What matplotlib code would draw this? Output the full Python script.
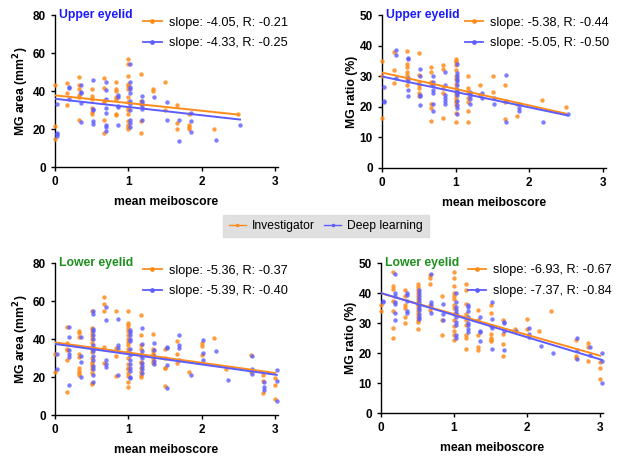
import numpy as np
import matplotlib
matplotlib.use("Agg")
import matplotlib.pyplot as plt
from matplotlib.lines import Line2D

plt.rcParams['font.family'] = ['Liberation Sans', 'DejaVu Sans']

# meiboscore columns (mean of 6 or so segment scores)
cols = [0, 1/6, 1/3, 1/2, 2/3, 5/6, 1, 7/6, 4/3, 3/2, 5/3, 11/6, 2, 13/6, 7/3, 5/2, 8/3, 17/6, 3]

# ---- upper eyelid, MG area ----
ua_inv = [[43, 21.5, 14.5], [44, 39, 32.5], [47.5, 43, 41, 38, 37, 25],
          [41, 37.5, 36, 31, 29, 28], [47, 41.5, 35, 34, 24.5, 18],
          [45, 41, 40, 37, 36, 28, 27.5],
          [57, 54, 48, 43.5, 42.5, 41, 37, 34, 31, 30, 28, 24, 22, 21, 20],
          [49, 35, 33, 24, 18], [41, 40], [45, 30], [32.5, 23, 20],
          [28, 22, 21, 20], [], [20], [], [28], [], [], []]
ua_dl = [[33, 18, 17.5, 16.5], [42, 41.5, 36], [43, 39.5, 39, 33.5, 23.5],
         [46, 30.5, 30, 24, 22.5], [45, 40.5, 36, 31, 28.5, 22, 21, 19],
         [38, 37, 32, 31.5, 22],
         [54, 44.5, 42, 41, 39, 35, 33, 30, 25, 23, 21],
         [37.5, 35, 33.5, 32, 30.5, 25], [37], [34, 24.5], [24.5, 13.5],
         [28.5, 24, 18.5], [], [14], [], [22], [], [], []]

# ---- upper eyelid, MG ratio ----
ur_inv = [[35, 30, 16.5], [37.8, 32, 27.8], [38.3, 34, 33, 31.5, 30.5, 29, 27],
          [37.5, 30.5, 28, 27, 26, 24.5, 23.5], [33, 31.5, 28, 27.5, 21, 19.5, 15.5],
          [33.5, 32.5, 26, 24.5, 16.5],
          [35.5, 35, 34.5, 33.5, 32, 30, 29, 27.5, 26, 25, 24, 23, 22, 21.5, 20.5, 18, 15],
          [30, 26, 25, 23, 21.5, 18.5, 15], [27, 24], [30, 25], [27, 21.5, 16],
          [21, 17], [], [22.2], [], [20], [], [], []]
ur_dl = [[26.5, 22, 21.5], [38.5, 37, 29.5], [36, 35.5, 29.5, 28.5, 25.5, 23.5],
         [32.5, 30, 24, 23.5, 20.5], [30, 28, 27, 25.5, 24.5, 21, 18.5],
         [31.5, 27, 24, 23, 22, 21],
         [34, 31, 30, 29, 28.5, 27, 25.5, 25, 24.5, 24, 22, 20.5, 19.5, 17.5],
         [25, 24.5, 23.5, 22.5, 21], [24.5, 23], [23, 21], [30.5, 22, 15],
         [21, 19.5, 18.5], [], [15], [], [17.5], [], [], []]

# ---- lower eyelid, MG area ----
la_inv = [[32, 22.5], [46.5, 38, 35, 34, 29, 12], [44, 43, 41, 32, 30.5, 25, 23, 22, 21],
          [54.5, 46, 45, 43, 41.5, 40, 38, 36, 35, 33, 30, 28, 27, 26, 24, 22, 17, 16.5],
          [62, 58.5, 54.5, 36, 27.5], [54.5, 35.5, 31, 20.5],
          [54.5, 48.5, 47.5, 46, 44, 42, 40, 38.5, 37, 35, 33, 30, 27, 25, 24, 22, 20.5, 17.5, 15],
          [52.5, 42, 37, 34.5, 32, 31, 28, 27.5, 25, 22.5, 21, 20],
          [42.5, 35, 33.5, 32, 31.5, 30, 28.5, 27.5], [35, 30, 25, 24.5, 15.5],
          [39, 32, 27.5], [22.5], [38, 36.5, 31.5], [40.5], [24], [],
          [31.5, 22.5], [21, 18, 11.5], [19.5, 16, 8.5]]
la_dl = [[32, 24], [46.5, 41, 34, 32, 30.5, 16], [41, 31, 28, 20],
         [55, 53, 45.5, 44, 42, 40, 37, 35, 33.5, 31, 29, 26, 24, 21, 17.5],
         [57, 50, 29, 27, 25.5], [50.5, 37, 35.5, 21],
         [45, 43.5, 42, 40, 39, 34.5, 31.5, 29, 27, 25, 23, 20, 19.5],
         [46, 37.5, 33.5, 30, 27.5, 26, 24, 22], [38, 34, 31, 28.5, 27],
         [36, 35.5, 26.5, 14], [42, 37, 35.5, 29], [21], [39.5, 32.5, 29], [33.5],
         [18.5], [], [31, 24, 21.5], [17.5, 14.5, 13], [23.5, 18, 7.5]]

# ---- lower eyelid, MG ratio ----
lr_inv = [[36, 34], [47, 42.5, 41.5, 37.5, 34, 28.5, 25], [41, 39, 36, 35, 32, 30],
          [43, 42, 41, 40, 39, 38, 37, 36.5, 36, 35, 34, 33, 32, 31, 30.5, 28],
          [46, 45, 43, 36, 34.5], [39, 31, 26],
          [47, 45, 42.5, 40, 39, 38, 36, 35, 33, 31, 29, 27.5, 26, 24.5],
          [43, 41, 36.5, 33, 31, 29.5, 26, 25, 21.5], [34.5, 31, 26, 22, 21],
          [36, 33.5, 29, 26.5, 25, 24.5, 24], [31, 26.5, 23, 19], [28], [31.5, 28],
          [27.5], [34], [], [24.5, 19, 18.5], [23.5, 22, 17.5], [17, 15, 11.5]]
lr_dl = [[37.5, 37], [46.5, 40, 39, 37, 36.5, 33.5, 31], [40, 39.5, 37.5, 34, 33.5],
         [41, 40, 39, 38, 37, 36, 35, 34.5, 33, 32, 31.5], [46.5, 37, 36, 33.5],
         [36.5, 33, 31], [40, 37, 35.5, 34.5, 33.5, 33, 32, 30.5, 29.5, 26, 25],
         [36, 35.5, 34, 32, 30, 29.5, 28, 27], [32, 27.5, 27, 24],
         [37, 31.5, 29, 28.5, 21.5], [30.5, 30, 27.5, 21], [27.5], [28.5, 26.5, 25.5],
         [22.5], [20], [], [25, 21, 18], [22, 19.5], [20, 17.5, 10]]

# regression results shown in the legends (intercept, slope, R)
ua_fit = [(37.7, -4.05, -0.21), (35.9, -4.33, -0.25)]
ur_fit = [(31.2, -5.38, -0.44), (29.9, -5.05, -0.50)]
la_fit = [(38.2, -5.36, -0.37), (37.4, -5.39, -0.40)]
lr_fit = [(39.9, -6.93, -0.67), (40.0, -7.37, -0.84)]

ORANGE = '#ff8c1a'
BLUE = '#5c5cff'
DL_SHIFT = 0.022

def flatten(groups, shift=0.0):
    xs, ys = [], []
    for c, g in zip(cols, groups):
        for v in g:
            xs.append(c + shift)
            ys.append(v)
    return np.array(xs), np.array(ys)

fig = plt.figure(figsize=(6.21, 4.59), dpi=100)

panels = [
    ([55/621, 1 - 167/459, 223/621, 152/459], ua_inv, ua_dl, ua_fit, 80,
     'MG area (mm$^\\mathbf{2}$)', 'Upper eyelid', '#1a1aff', 0.395),
    ([382/621, 1 - 168/459, 224/621, 153/459], ur_inv, ur_dl, ur_fit, 50,
     'MG ratio (%)', 'Upper eyelid', '#1a1aff', 0.37),
    ([55/621, 1 - 415/459, 223/621, 152/459], la_inv, la_dl, la_fit, 80,
     'MG area (mm$^\\mathbf{2}$)', 'Lower eyelid', '#1f8f1f', 0.395),
    ([381/621, 1 - 413/459, 222/621, 150/459], lr_inv, lr_dl, lr_fit, 50,
     'MG ratio (%)', 'Lower eyelid', '#1f8f1f', 0.39),
]

for rect, inv, dl, fits, ymax, ylab, title, tcol, legx in panels:
    ax = fig.add_axes(rect)
    xi, yi = flatten(inv)
    xd, yd = flatten(dl, DL_SHIFT)
    ax.scatter(xi, yi, s=10, color=ORANGE, alpha=0.85, lw=0, clip_on=False, zorder=3)
    ax.scatter(xd, yd, s=10, color=BLUE, alpha=0.8, lw=0, clip_on=False, zorder=3)
    handles = []
    for (b, m, r), xs, col in zip(fits, (xi, xd), (ORANGE, BLUE)):
        xx = np.array([0, xs.max()])
        ax.plot(xx, b + m * xx, color=col, lw=1.4, zorder=4)
        handles.append(Line2D([], [], color=col, lw=1.3, marker='o', markersize=2.4,
                              label='slope: %.2f, R: %.2f' % (m, r)))
    ax.legend(handles=handles, loc='upper left', bbox_to_anchor=(legx, 0.99),
              frameon=False, fontsize=9.2, borderpad=0, borderaxespad=0,
              handlelength=1.45, handletextpad=0.55, labelspacing=0.7)
    ax.text(0.02, 1.0, title, transform=ax.transAxes, color=tcol,
            fontsize=8.8, fontweight='bold', va='center', ha='left')
    ax.set_xlim(0, 3.04)
    ax.set_ylim(0, ymax)
    ax.set_xticks([0, 1, 2, 3])
    ax.set_yticks(np.arange(0, ymax + 1, 20 if ymax == 80 else 10))
    for s in ['top', 'right']:
        ax.spines[s].set_visible(False)
    for s in ['left', 'bottom']:
        ax.spines[s].set_linewidth(1.0)
    ax.tick_params(direction='out', length=3, width=1.0, labelsize=8.5)
    for lab in ax.get_xticklabels() + ax.get_yticklabels():
        lab.set_fontweight('bold')
    ax.set_xlabel('mean meiboscore', fontsize=8.8, fontweight='bold', labelpad=6)
    ax.set_ylabel(ylab, fontsize=8.8, fontweight='bold', labelpad=1)

# shared legend in the middle
shared = [Line2D([], [], color=ORANGE, lw=1, marker='o', markersize=1.5, label='Investigator'),
          Line2D([], [], color=BLUE, lw=1, marker='o', markersize=1.5, label='Deep learning')]
leg = fig.legend(handles=shared, loc='center', bbox_to_anchor=(326/621, 1 - 226/459),
                 ncol=2, fontsize=8.7, frameon=True, fancybox=False,
                 handlelength=1.4, handletextpad=0.5, columnspacing=0.8,
                 borderpad=0.45)
leg.get_frame().set_facecolor('#d9d9d9')
leg.get_frame().set_edgecolor('#d9d9d9')

fig.savefig('out.png', dpi=100)
